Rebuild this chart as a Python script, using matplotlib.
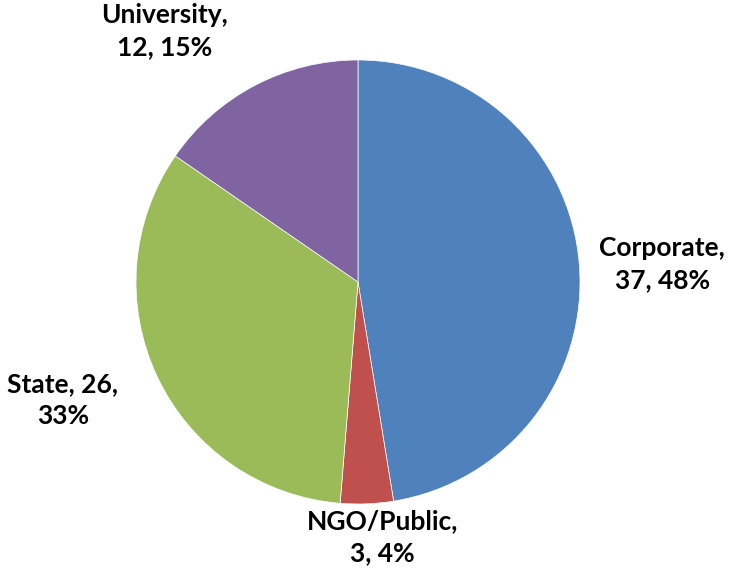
import matplotlib
matplotlib.use('Agg')
from matplotlib import pyplot as plt

categories = ['Corporate', 'NGO/Public', 'State', 'University']
counts = [37, 3, 26, 12]
percents = [48, 4, 33, 15]
colors = ['#4F81BD', '#C0504D', '#9BBB59', '#8064A2']

label_texts = ['%s,\n%d, %d%%' % (categories[0], counts[0], percents[0]),
               '%s,\n%d, %d%%' % (categories[1], counts[1], percents[1]),
               '%s, %d,\n%d%%' % (categories[2], counts[2], percents[2]),
               '%s,\n%d, %d%%' % (categories[3], counts[3], percents[3])]
# label centres in pie-radius units
label_pos = [(1.37, 0.08), (0.11, -1.15), (-1.33, -0.53), (-0.87, 1.13)]


def main():
    fig = plt.figure(figsize=(7.35, 5.70), dpi=100)
    ax = fig.add_axes([0, 0, 1, 1])
    ax.pie(counts, colors=colors, startangle=90, counterclock=False,
           radius=1.0, wedgeprops=dict(edgecolor='white', linewidth=0.5))

    for txt, (x, y) in zip(label_texts, label_pos):
        ax.text(x, y, txt, ha='center', va='center', fontsize=19,
                fontweight='bold', family=['Lato', 'DejaVu Sans'],
                linespacing=1.4, color='black')

    r = 222.0
    cx, cy = 358.0, 282.0
    ax.set_xlim(-cx / r, (735 - cx) / r)
    ax.set_ylim(-(570 - cy) / r, cy / r)
    ax.set_aspect('auto')
    ax.axis('off')
    fig.savefig('out.png', dpi=100)


if __name__ == '__main__':
    main()
